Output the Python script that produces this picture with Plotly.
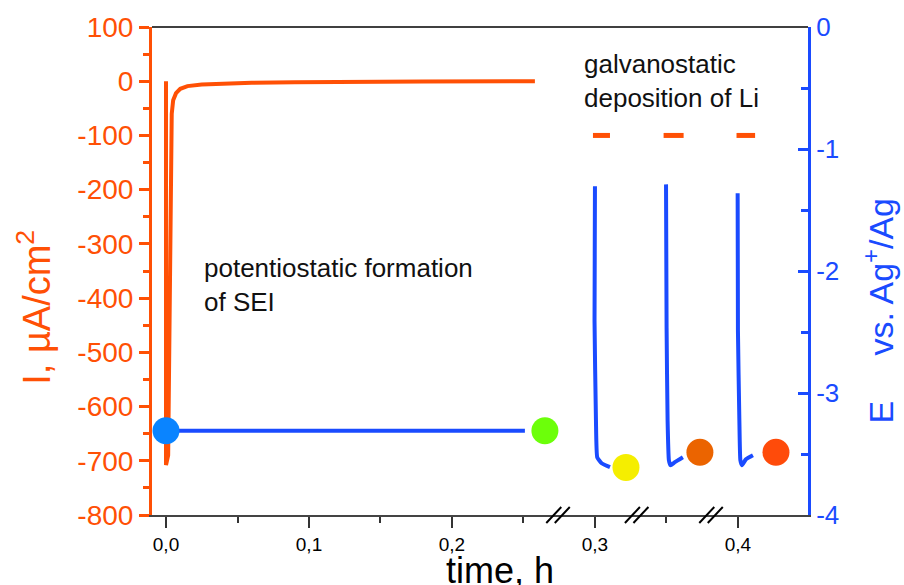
import plotly.graph_objects as go

# ---- data -------------------------------------------------------------
# potentiostatic SEI formation: current transient (µA/cm²) vs time (h)
t_sei_current = [0.0, 0.0, 0.0015, 0.0025, 0.003, 0.004, 0.005, 0.007, 0.010,
                 0.015, 0.025, 0.040, 0.060, 0.090, 0.130, 0.180, 0.258]
i_sei_current = [0, -708, -690, -400, -150, -60, -35, -22, -14,
                 -9, -6, -4, -3, -2, -1, -0.5, 0]

# potentiostatic hold potential (V vs Ag+/Ag)
t_sei_potential = [0.0, 0.251]
e_sei_potential = [-3.31, -3.31]

# galvanostatic Li deposition steps: constant current pulses
t_galv_current = [[0.2986, 0.3105], [0.348, 0.362], [0.399, 0.412]]
i_galv_current = [[-100, -100], [-100, -100], [-100, -100]]

# potential transients during the three deposition steps
t_galv_potential = [
    [0.3000, 0.2997, 0.3007, 0.3016, 0.3047, 0.3105],
    [0.3497, 0.3501, 0.3508, 0.3517, 0.3528, 0.3559, 0.3615],
    [0.3998, 0.4000, 0.4010, 0.4017, 0.4028, 0.4056, 0.4105],
]
e_galv_potential = [
    [-1.306, -2.408, -3.224, -3.527, -3.576, -3.608],
    [-1.290, -2.465, -3.224, -3.551, -3.592, -3.567, -3.527],
    [-1.363, -2.490, -3.224, -3.551, -3.592, -3.543, -3.510],
]

# sample states (marker points on the potential axis)
state_t = [0.0, 0.265, 0.3217, 0.3734, 0.4266]
state_e = [-3.31, -3.31, -3.61, -3.486, -3.486]
state_colors = ["#0A84FF", "#6CFF0A", "#F5EE00", "#EB6400", "#FF4B0A"]

# axis ticks
x_tickvals = [0.0, 0.1, 0.2, 0.3, 0.4]
x_ticktext = ["0,0", "0,1", "0,2", "0,3", "0,4"]
x_minor = [0.05, 0.15, 0.25, 0.35]
i_tickvals = [100, 0, -100, -200, -300, -400, -500, -600, -700, -800]
i_ticktext = ["100", "0", "-100", "-200", "-300", "-400", "-500", "-600", "-700", "-800"]
e_tickvals = [0, -1, -2, -3, -4]
e_ticktext = ["0", "-1", "-2", "-3", "-4"]
axis_breaks = [0.274, 0.329, 0.381]

# ---- styling ----------------------------------------------------------
ORANGE = "#FF5005"
BLUE = "#1A4BFF"
FONT = "Liberation Sans, Arial, sans-serif"

fig = go.Figure()

fig.add_trace(go.Scatter(x=t_sei_current, y=i_sei_current, mode="lines",
                         line=dict(color=ORANGE, width=4), yaxis="y"))
for tx, iy in zip(t_galv_current, i_galv_current):
    fig.add_trace(go.Scatter(x=tx, y=iy, mode="lines",
                             line=dict(color=ORANGE, width=5), yaxis="y"))

fig.add_trace(go.Scatter(x=t_sei_potential, y=e_sei_potential, mode="lines",
                         line=dict(color=BLUE, width=4), yaxis="y2"))
for tx, ey in zip(t_galv_potential, e_galv_potential):
    fig.add_trace(go.Scatter(x=tx, y=ey, mode="lines",
                             line=dict(color=BLUE, width=4, shape="spline", smoothing=0.4),
                             yaxis="y2"))

fig.add_trace(go.Scatter(x=state_t, y=state_e, mode="markers",
                         marker=dict(size=27, color=state_colors, line=dict(width=0)),
                         yaxis="y2"))

# broken-axis "//" marks on the time axis
shapes = []
for xb in axis_breaks:
    for dx in (-7.5, 1.0):
        shapes.append(dict(type="line", xref="x", yref="paper",
                           xsizemode="pixel", ysizemode="pixel",
                           xanchor=xb, yanchor=0,
                           x0=dx - 4, x1=dx + 11, y0=-8, y1=8,
                           line=dict(color="black", width=2)))
# thin frame line along the top
shapes.append(dict(type="line", xref="paper", yref="paper", x0=0, x1=1, y0=1, y1=1,
                   line=dict(color="black", width=1.5)))

annotations = [
    dict(text="potentiostatic formation<br>of SEI", xref="paper", yref="paper",
         x=0.076, y=0.4714, xanchor="left", yanchor="middle", showarrow=False,
         align="left", font=dict(family=FONT, size=26, color="#111111")),
    dict(text="galvanostatic<br>deposition of Li", xref="paper", yref="paper",
         x=0.656, y=0.8898, xanchor="left", yanchor="middle", showarrow=False,
         align="left", font=dict(family=FONT, size=26, color="#111111")),
    dict(text="I, µA/cm<sup>2</sup>", xref="paper", yref="paper",
         x=-0.18, y=0.4265, xanchor="center", yanchor="middle", textangle=-90,
         showarrow=False, font=dict(family=FONT, size=38, color=ORANGE)),
    dict(text="E<sub>    </sub>  vs. Ag<sup>+</sup>/Ag", xref="paper", yref="paper",
         x=1.071, y=0.418, xanchor="left", yanchor="middle", textangle=-90,
         showarrow=False, font=dict(family=FONT, size=34, color=BLUE)),
    dict(text="time, h", xref="paper", yref="paper",
         x=0.5305, y=-0.0673, xanchor="center", yanchor="top",
         showarrow=False, font=dict(family=FONT, size=36, color="black")),
]

fig.update_layout(
    width=904, height=585,
    margin=dict(l=152, r=96, t=25, b=70, pad=0),
    paper_bgcolor="white", plot_bgcolor="white",
    showlegend=False,
    font=dict(family=FONT),
    shapes=shapes,
    annotations=annotations,
    xaxis=dict(
        range=[-0.0098, 0.449], tickmode="array",
        tickvals=x_tickvals, ticktext=x_ticktext,
        ticks="outside", ticklen=11, tickwidth=2, tickcolor="#333333",
        minor=dict(tickmode="array", tickvals=x_minor, ticks="outside",
                   ticklen=6, tickwidth=2, tickcolor="#333333"),
        showline=True, linecolor="#444444", linewidth=2,
        showgrid=False, zeroline=False,
        tickfont=dict(family=FONT, size=19, color="black"),
    ),
    yaxis=dict(
        range=[-800, 100], tickmode="array",
        tickvals=i_tickvals, ticktext=i_ticktext,
        ticks="outside", ticklen=10, tickwidth=3, tickcolor=ORANGE,
        minor=dict(dtick=50, ticks="outside", ticklen=6, tickwidth=3, tickcolor=ORANGE),
        showline=True, linecolor=ORANGE, linewidth=3,
        showgrid=False, zeroline=False,
        tickfont=dict(family=FONT, size=28, color=ORANGE),
    ),
    yaxis2=dict(
        overlaying="y", side="right",
        range=[-4, 0], tickmode="array",
        tickvals=e_tickvals, ticktext=e_ticktext,
        ticks="inside", ticklen=10, tickwidth=3, tickcolor=BLUE,
        minor=dict(dtick=0.5, ticks="inside", ticklen=7, tickwidth=3, tickcolor=BLUE),
        showline=True, linecolor=BLUE, linewidth=3,
        showgrid=False, zeroline=False,
        tickfont=dict(family=FONT, size=26, color=BLUE),
    ),
)

fig.write_html("out.html")
